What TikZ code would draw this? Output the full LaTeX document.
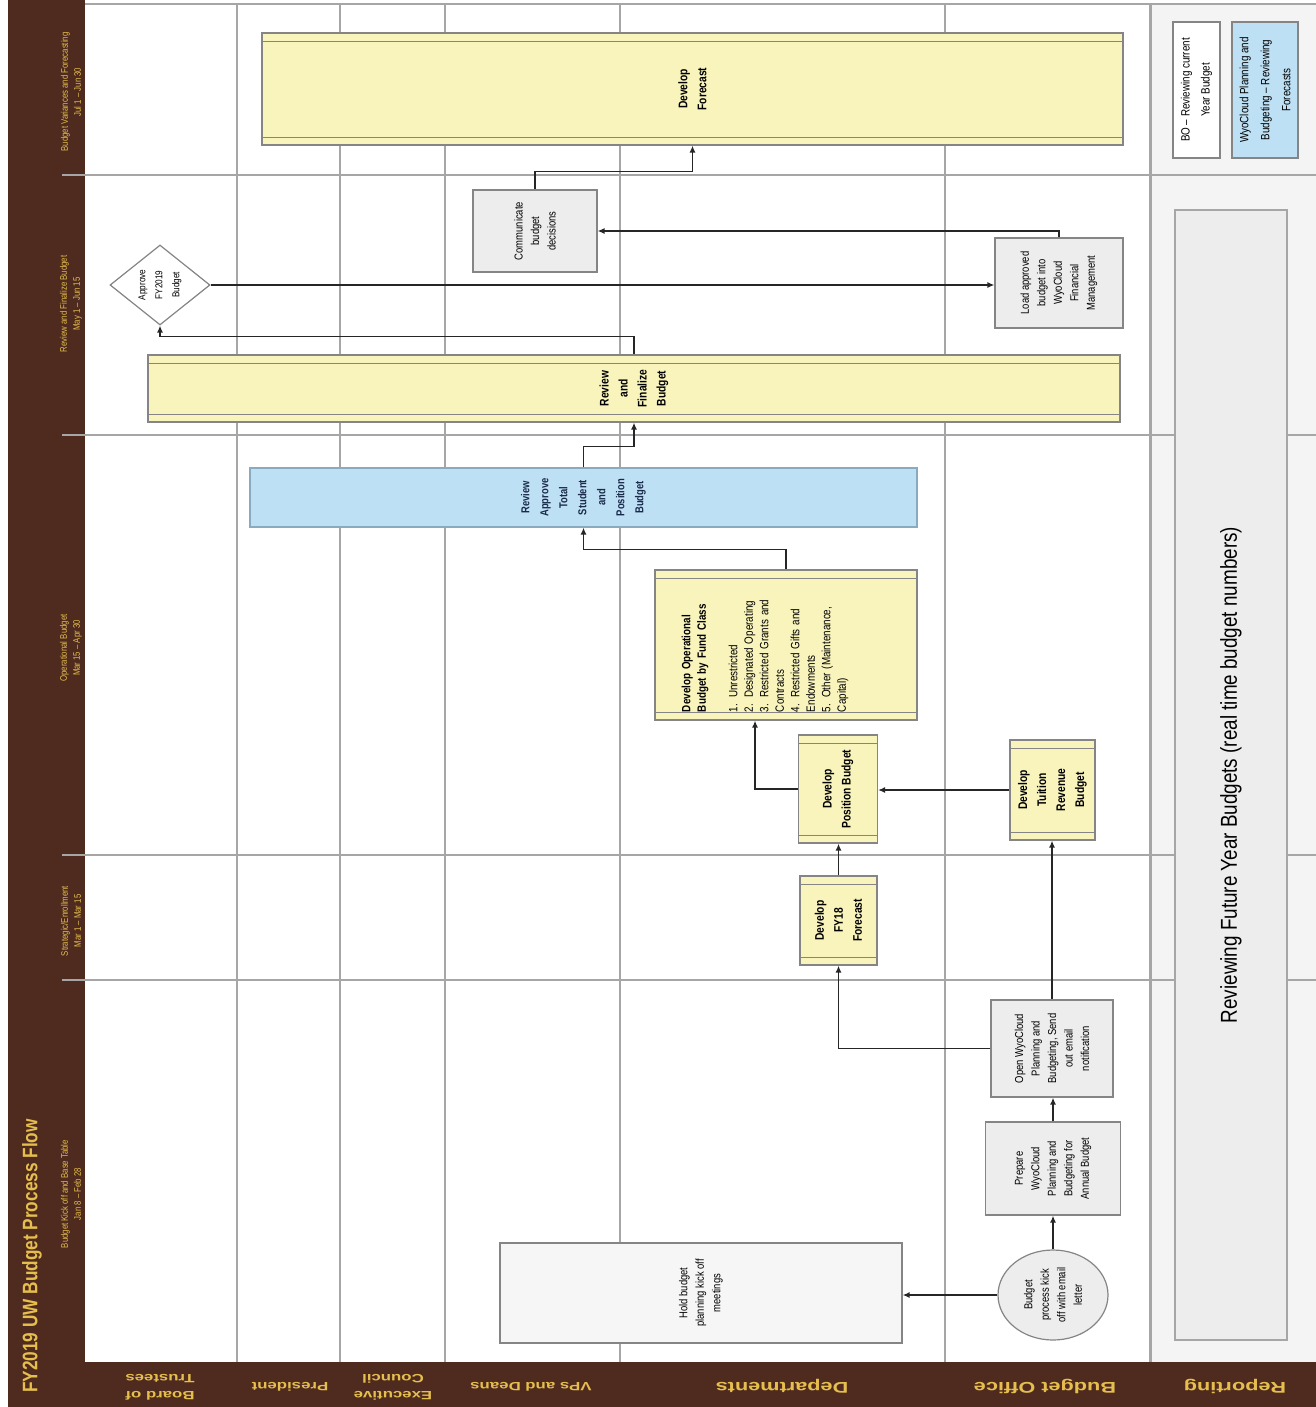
\documentclass[tikz,border=0pt]{standalone}
\usepackage{fontspec}
\setmainfont{Liberation Sans}
\newfontfamily\nf{Liberation Sans}[FakeStretch=0.82]
\newfontfamily\wf{Liberation Sans}[FakeStretch=1.4]
\usetikzlibrary{shapes.geometric,calc,arrows.meta}
\definecolor{brn}{HTML}{4E2B1E}
\definecolor{gold}{HTML}{E6BE4E}
\definecolor{ylw}{HTML}{F8F4BC}
\definecolor{blu}{HTML}{BEE0F4}
\definecolor{bluedge}{HTML}{8AAAC0}
\definecolor{gboxc}{HTML}{EDEDED}
\definecolor{holdc}{HTML}{F6F6F6}
\definecolor{lanec}{HTML}{A6A6A6}
\definecolor{edge}{HTML}{858585}
\definecolor{repc}{HTML}{F4F4F4}
\definecolor{navy}{HTML}{1A2A4A}
\begin{document}
\begin{tikzpicture}[x=1pt,y=-1pt,
  box/.style={rotate=90, draw=edge, line width=1.2pt, inner sep=1pt, align=center},
  gb/.style={box, fill=gboxc, font=\nf\fontsize{11.5}{16.5}\selectfont},
  strip/.style={path picture={
    \draw[edge, line width=0.8pt]
      ($(path picture bounding box.north west)!#1!(path picture bounding box.south west)$) --
      ($(path picture bounding box.north east)!#1!(path picture bounding box.south east)$)
      ($(path picture bounding box.south west)!#1!(path picture bounding box.north west)$) --
      ($(path picture bounding box.south east)!#1!(path picture bounding box.north east)$);}},
  yb/.style={box, fill=ylw, font=\nf\bfseries\fontsize{12.5}{19}\selectfont, strip=8pt},
  arr/.style={line width=1.6pt, black!85, -{Latex[length=7pt,width=6pt]}},
  lanel/.style={rotate=180, text=gold, font=\wf\bfseries\fontsize{12}{17}\selectfont, align=center},
  lanelbig/.style={lanel, font=\wf\bfseries\fontsize{15.5}{18}\selectfont},
  phase/.style={rotate=90, text=gold, font=\nf\fontsize{9.5}{13}\selectfont, align=center},
  sz/.style 2 args={minimum width=#1, minimum height=#2},
]
\useasboundingbox (0,0) rectangle (1316,1407);
% backgrounds
\fill[white] (0,0) rectangle (1316,1407);
\fill[repc] (1150,4) rectangle (1316,1362);
\fill[brn] (8,0) rectangle (85,1407);
\fill[brn] (8,1362) rectangle (1316,1407);
% lanes and phases
\draw[lanec, line width=1.5pt] (85,4) -- (1316,4);
\foreach \x in {237,340,445,620,945}
  \draw[lanec, line width=1.6pt] (\x,4) -- (\x,1362);
\draw[lanec, line width=3pt] (1150,4) -- (1150,1362);
\foreach \y in {175,435,855,980}
  \draw[lanec, line width=1.5pt] (62,\y) -- (1316,\y);

% title and phase labels
\node[rotate=90, text=gold, font=\nf\bfseries\fontsize{21}{24}\selectfont] (title) at (32,1256) {FY2019 UW Budget Process Flow};
\node[phase] (ph1) at (71,1194) {Budget Kick off and Base Table\\Jan 8 – Feb 28};
\node[phase] (ph2) at (71,921) {Strategic/Enrollment\\Mar 1 – Mar 15};
\node[phase] (ph3) at (71,648) {Operational Budget\\Mar 15 – Apr 30};
\node[phase] (ph4) at (71,304) {Review and Finalize Budget\\May 1 – Jun 15};
\node[phase] (ph5) at (71,92) {Budget Variances and Forecasting\\Jul 1 – Jun 30};

% lane labels
\node[lanel] (l1) at (160,1387) {Board of\\Trustees};
\node[lanel] (l2) at (290,1387) {President};
\node[lanel] (l3) at (393,1387) {Executive\\Council};
\node[lanel] (l4) at (531,1387) {VPs and Deans};
\node[lanelbig] (l5) at (782,1386) {Departments};
\node[lanelbig] (l6) at (1045,1386) {Budget Office};
\node[lanelbig] (l7) at (1235,1386) {Reporting};

% reporting lane
\node[box, fill=gboxc, draw=lanec, line width=1.5pt, sz={1130pt}{112pt}, font=\nf\fontsize{23}{26}\selectfont] (rep) at (1231,775) {Reviewing Future Year Budgets (real time budget numbers)};
\node[box, fill=white, draw=edge, sz={136pt}{47pt}, font=\nf\fontsize{12}{20}\selectfont] (leg1) at (1196.5,90) {BO – Reviewing current\\Year Budget};
\node[box, fill=blu, draw=edge, sz={136pt}{66pt}, font=\nf\fontsize{12}{21}\selectfont] (leg2) at (1265,90) {WyoCloud Planning and\\Budgeting – Reviewing\\Forecasts};

% process nodes
\node[gb, ellipse, sz={90pt}{110pt}] (kick) at (1053,1295) {Budget\\process kick\\off with email\\letter};
\node[gb, fill=holdc, sz={100pt}{402pt}] (hold) at (701,1293) {Hold budget\\planning kick off\\meetings};
\node[gb, sz={93pt}{135pt}] (prep) at (1053,1168.5) {Prepare\\WyoCloud\\Planning and\\Budgeting for\\Annual Budget};
\node[gb, sz={97pt}{122pt}] (open) at (1052,1048.5) {Open WyoCloud\\Planning and\\Budgeting, Send\\out email\\notification};
\node[yb, sz={89pt}{77pt}] (fy18) at (838.5,920.5) {Develop\\FY18\\Forecast};
\node[yb, sz={108pt}{79pt}] (pos) at (838,789) {Develop\\Position Budget};
\node[yb, sz={100pt}{85pt}] (tuit) at (1052.5,790) {Develop\\Tuition\\Revenue\\Budget};
\node[yb, sz={150pt}{262pt}] (opb) at (786,645) {};
\node[rotate=90, align=left, text width=132pt, font=\nf\fontsize{12}{15.5}\selectfont] (opbt) at (765,646)
  {\textbf{Develop Operational}\\\textbf{Budget by Fund Class}\\[16pt]1. Unrestricted\\2. Designated Operating\\3. Restricted Grants and\\Contracts\\4. Restricted Gifts and\\Endowments\\5. Other (Maintenance,\\Capital)};
\node[box, fill=blu, draw=bluedge, sz={59pt}{667pt}, text=navy, font=\nf\bfseries\fontsize{11.5}{19}\selectfont] (blue) at (583.5,497.5) {Review\\Approve\\Total\\Student\\and\\Position\\Budget};
\node[yb, sz={67pt}{972pt}] (rf) at (634,388.5) {Review\\and\\Finalize\\Budget};
\node[gb, diamond, fill=white, sz={80pt}{100pt}, font=\nf\fontsize{10}{17}\selectfont] (appr) at (160,285) {Approve\\FY2019\\Budget};
\node[gb, sz={90pt}{128pt}] (load) at (1059,283) {Load approved\\budget into\\WyoCloud\\Financial\\Management};
\node[gb, sz={82pt}{124pt}] (comm) at (535,231) {Communicate\\budget\\decisions};
\node[yb, sz={112pt}{861pt}] (fc) at (692.5,89) {Develop\\Forecast};

% connectors
\draw[arr] (kick.north) -- (kick.north -| hold.south);
\draw[arr] (kick.east) -- (kick.east |- prep.west);
\draw[arr] (prep.east) -- (prep.east |- open.west);
\draw[arr] (open.north) -| (fy18.west);
\draw[arr] (fy18.east) -- (fy18.east |- pos.west);
\draw[arr] (open.east) -- (open.east |- tuit.west);
\draw[arr] (tuit.north) -- (tuit.north -| pos.south);
\draw[arr] (pos.north) -| ($(opb.west)+(-31,0)$);
\draw[arr] (opb.east) -- ++(0,-20) -| (blue.west);
\draw[arr] (blue.east) -- ++(0,-21) -| (rf.west);
\draw[arr] (rf.east) -- ++(0,-18) -| (appr.west);
\draw[arr] (appr.south) -- (appr.south -| load.north);
\draw[arr] (load.east) |- (comm.south);
\draw[arr] (comm.east) -- ++(0,-18) -| (fc.west);
\end{tikzpicture}
\end{document}
